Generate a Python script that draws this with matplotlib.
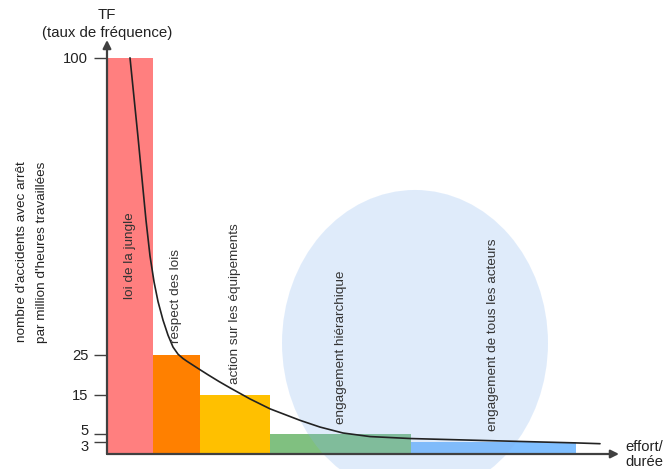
import matplotlib
matplotlib.use("Agg")
import matplotlib.pyplot as plt
from matplotlib.patches import Ellipse
from matplotlib.transforms import ScaledTranslation

plt.rcParams['font.family'] = ['Liberation Sans', 'DejaVu Sans']

# ---- data ----
stage_labels = ["loi de la jungle", "respect des lois", "action sur les équipements",
                "engagement hiérarchique", "engagement de tous les acteurs"]
bar_left = [0, 46, 93, 163, 304]
bar_width = [46, 47, 70, 141, 165]
bar_height = [100, 25, 15, 5, 3]
bar_colors = ["#ff7f7f", "#ff8000", "#ffc000", "#80c080", "#80bfff"]
ytick_values = [3, 5, 15, 25, 100]
curve_x = [23, 27, 31, 35, 39, 43, 47, 51, 56, 61, 66, 71, 76, 80, 91, 101, 112, 123,
           143, 163, 193, 213, 236, 263, 304, 393, 469, 493]
curve_y = [100, 90, 80, 69.5, 59, 50, 43.5, 38.5, 33.8, 30.0, 27.0, 25.2, 24.1, 23.4,
           21.6, 20.0, 18.3, 16.7, 13.9, 11.4, 8.5, 6.8, 5.3, 4.4, 3.9, 3.3, 2.8, 2.6]
label_x = [23, 69, 128, 234, 386]
label_y = [50, 40, 38, 27, 30]

W, H = 666, 469
fig = plt.figure(figsize=(W / 100, H / 100), dpi=100)
ax = fig.add_axes([107 / W, (H - 454) / H, 513 / W, 414 / H])
ax.set_xlim(0, 513)
ax.set_ylim(0, 104.5)
for s in ax.spines.values():
    s.set_visible(False)
ax.patch.set_alpha(0)

ax.bar(bar_left, bar_height, width=bar_width, align='edge', color=bar_colors,
       edgecolor='none', zorder=1)

ell = Ellipse((308, 28.0), 266, 77.3, facecolor='#83b3ef', alpha=0.25,
              edgecolor='none', zorder=2, clip_on=False)
ax.add_patch(ell)

ax.plot(curve_x, curve_y, color='#222222', lw=1.2, zorder=3,
        solid_joinstyle='round', solid_capstyle='round')

for txt, x, y in zip(stage_labels, label_x, label_y):
    ax.text(x, y, txt, rotation=90, ha='center', va='center', fontsize=9.7,
            color='#333333', zorder=4)

# axes with arrows
ax.annotate('', xy=(0, 104.5), xytext=(0, 0),
            arrowprops=dict(arrowstyle='-|>', color='#404040', lw=1.6,
                            mutation_scale=12, shrinkA=0, shrinkB=0),
            annotation_clip=False, zorder=5)
ax.annotate('', xy=(512, 0), xytext=(0, 0),
            arrowprops=dict(arrowstyle='-|>', color='#404040', lw=1.6,
                            mutation_scale=12, shrinkA=0, shrinkB=0),
            annotation_clip=False, zorder=5)

ax.set_xticks([])
ax.set_yticks(ytick_values)
ax.set_yticklabels([str(v) for v in ytick_values])
ax.tick_params(axis='y', length=9.5, width=1.0, color='#404040', pad=4,
               labelsize=10.6, labelcolor='#222222')
# separate the close labels 3 and 5 slightly, as in the reference
for lab, dy in zip(ax.get_yticklabels(), [-0.035, 0.045, 0, 0, 0]):
    lab.set_transform(lab.get_transform() + ScaledTranslation(0, dy, fig.dpi_scale_trans))

fig.text(107 / W, 1 - 15 / H, "TF", ha='center', va='center', fontsize=10.8, color='#222222')
fig.text(107 / W, 1 - 33 / H, "(taux de fréquence)", ha='center', va='center',
         fontsize=10.8, color='#222222')
fig.text(22 / W, 1 - 252 / H, "nombre d'accidents avec arrêt", rotation=90,
         ha='center', va='center', fontsize=9.7, color='#222222')
fig.text(42 / W, 1 - 252 / H, "par million d'heures travaillées", rotation=90,
         ha='center', va='center', fontsize=9.7, color='#222222')
fig.text(625 / W, 1 - 447 / H, "effort/", ha='left', va='center', fontsize=10.6, color='#222222')
fig.text(625 / W, 1 - 462 / H, "durée", ha='left', va='center', fontsize=10.6, color='#222222')

fig.savefig("out.png", dpi=100)
